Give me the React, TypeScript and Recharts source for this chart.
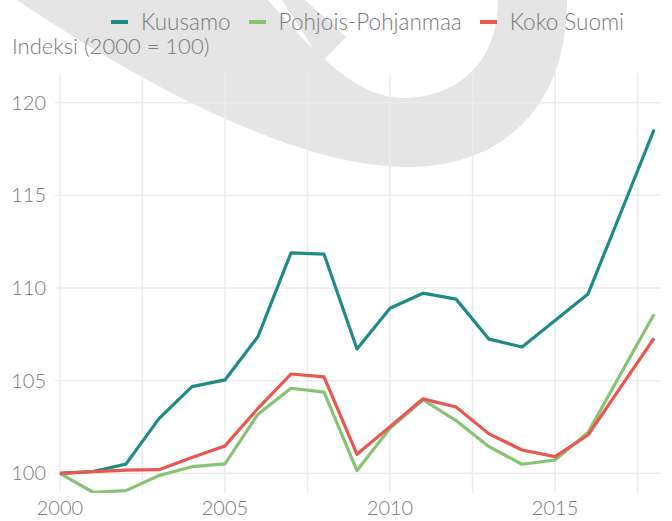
import { LineChart, Line, XAxis, YAxis, CartesianGrid } from 'recharts';

// index values, year 2000 = 100
const years = [
  2000, 2001, 2002, 2003, 2004, 2005, 2006, 2007, 2008, 2009,
  2010, 2011, 2012, 2013, 2014, 2015, 2016, 2017, 2018,
];
const kuusamo = [
  100, 100.1, 100.5, 102.95, 104.68, 105.04, 107.38, 111.9, 111.83, 106.71,
  108.91, 109.72, 109.4, 107.24, 106.82, 108.25, 109.68, 114.1, 118.55,
];
const pohjoisPohjanmaa = [
  100, 98.98, 99.07, 99.88, 100.36, 100.51, 103.19, 104.59, 104.38, 100.15,
  102.43, 103.97, 102.85, 101.44, 100.49, 100.72, 102.2, 105.4, 108.58,
];
const kokoSuomi = [
  100, 100.09, 100.17, 100.2, 100.85, 101.48, 103.51, 105.36, 105.21, 101.03,
  102.52, 104.02, 103.58, 102.13, 101.26, 100.9, 102.07, 104.68, 107.29,
];

const xTicks = [2000, 2005, 2010, 2015];
const yTicks = [100, 105, 110, 115, 120];
const xGrid = [2000, 2002.5, 2005, 2007.5, 2010, 2012.5, 2015, 2017.5];

const series = [
  { key: 'kuusamo', name: 'Kuusamo', color: '#1f8b86', values: kuusamo },
  { key: 'pp', name: 'Pohjois-Pohjanmaa', color: '#88c273', values: pohjoisPohjanmaa },
  { key: 'fi', name: 'Koko Suomi', color: '#ea5650', values: kokoSuomi },
];

const rows = years.map((year, i) => {
  const row: Record<string, number> = { year };
  series.forEach((s) => {
    row[s.key] = s.values[i];
  });
  return row;
});

const FONT = 'Lato, "Open Sans", sans-serif';
const TEXT = '#7a7a7a';

const XTick = ({ x, y, payload }: any) => (
  <text x={x} y={y} dy={22} textAnchor="middle" fill={TEXT} fontSize={20} fontWeight={300} fontFamily={FONT}>
    {payload.value}
  </text>
);

const YTick = ({ x, y, payload }: any) => (
  <text x={x} y={y} dy={7} textAnchor="end" fill={TEXT} fontSize={20} fontWeight={300} fontFamily={FONT}>
    {payload.value}
  </text>
);

export default function App() {
  return (
    <div style={{ position: 'absolute', left: 0, top: 0, width: 672, height: 521, background: '#fff', overflow: 'hidden' }}>
      {/* watermark logo behind the plot */}
      <svg width={672} height={521} style={{ position: 'absolute', left: 0, top: 0 }}>
        <path
          d="M17,0 C150,90 300,167 407,167 C500,167 567,110 567,0 L498,0 C498,60 460,98 403,98 C360,98 320,60 268,0 Z"
          fill="#e5e5e5"
        />
        <path d="M305,0 L346,37 L322,62 L282,0 Z" fill="#e5e5e5" />
      </svg>

      <div
        style={{
          position: 'absolute',
          left: 111,
          top: 8,
          display: 'flex',
          alignItems: 'center',
          fontFamily: FONT,
          fontWeight: 300,
          fontSize: 22.5,
          color: TEXT,
          whiteSpace: 'nowrap',
        }}
      >
        {series.map((s) => (
          <div key={s.key} style={{ display: 'flex', alignItems: 'center', marginRight: 18 }}>
            <span style={{ display: 'inline-block', width: 17, height: 4, background: s.color, marginRight: 13 }} />
            <span>{s.name}</span>
          </div>
        ))}
      </div>

      <div
        style={{
          position: 'absolute',
          left: 12,
          top: 32,
          fontFamily: FONT,
          fontWeight: 300,
          fontSize: 22,
          color: TEXT,
          whiteSpace: 'nowrap',
        }}
      >
        Indeksi (2000 = 100)
      </div>

      <div style={{ position: 'absolute', left: 0, top: 0 }}>
        <LineChart width={672} height={521} data={rows} margin={{ top: 73, right: 12, bottom: 0, left: 0 }}>
          <CartesianGrid
            stroke="#ebebeb"
            strokeWidth={1.5}
            horizontalValues={yTicks}
            verticalValues={xGrid}
          />
          <XAxis
            dataKey="year"
            type="number"
            domain={[1999.85, 2018.18]}
            ticks={xTicks}
            allowDataOverflow
            axisLine={false}
            tickLine={false}
            tickSize={0}
            tickMargin={0}
            height={28}
            tick={<XTick />}
          />
          <YAxis
            type="number"
            domain={[98.94, 121.6]}
            ticks={yTicks}
            allowDataOverflow
            axisLine={false}
            tickLine={false}
            tickSize={0}
            tickMargin={9}
            width={55}
            tick={<YTick />}
          />
          {series.map((s) => (
            <Line
              key={s.key}
              dataKey={s.key}
              name={s.name}
              stroke={s.color}
              strokeWidth={3.2}
              dot={false}
              activeDot={false}
              isAnimationActive={false}
              strokeLinejoin="round"
            />
          ))}
        </LineChart>
      </div>
    </div>
  );
}
